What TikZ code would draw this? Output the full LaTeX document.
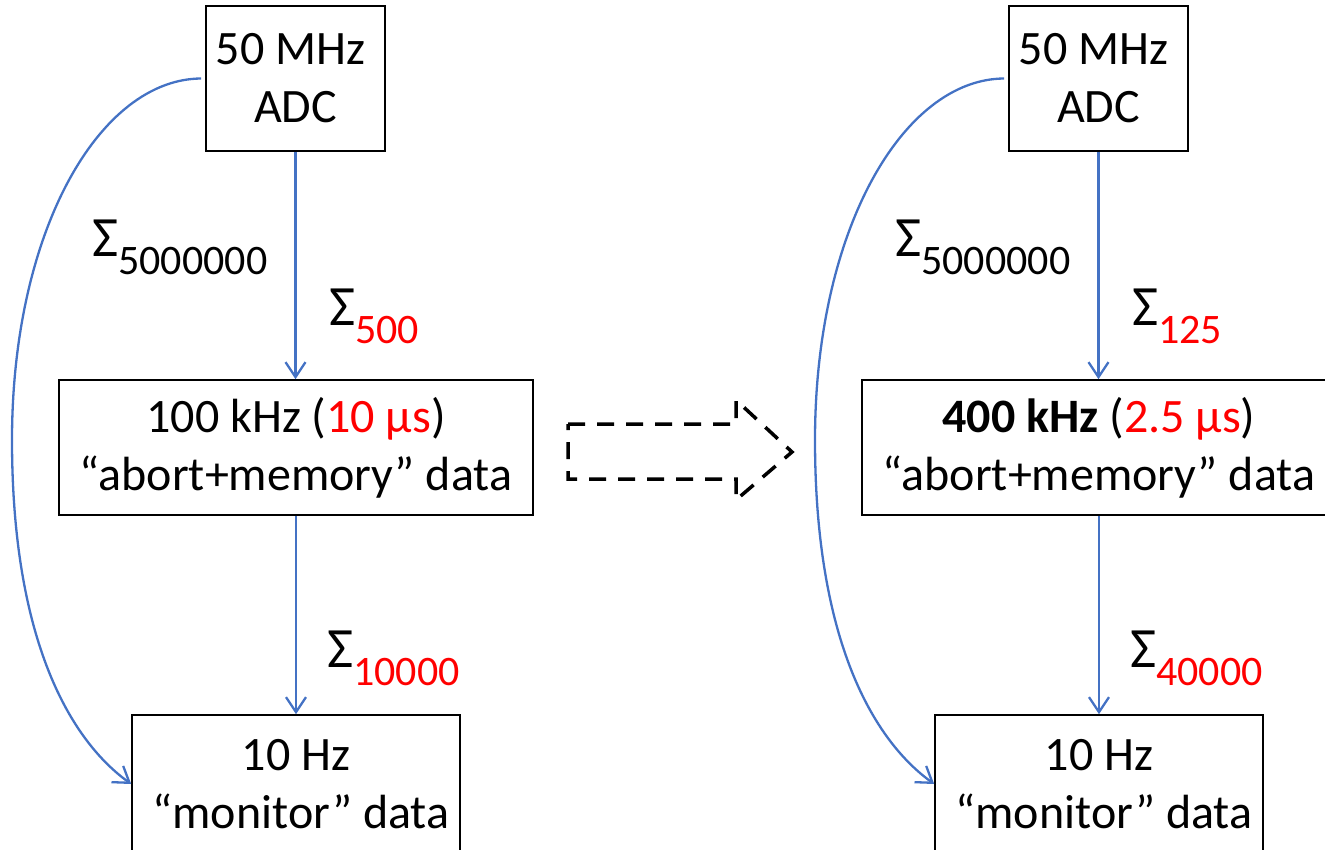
\documentclass[tikz,border=0pt]{standalone}
\usepackage{fontspec}
\setmainfont{Carlito}
\usetikzlibrary{arrows.meta}
\definecolor{flowblue}{HTML}{4472C4}
\definecolor{hotred}{HTML}{FF0000}
% summation sign with a lowered count
\newcommand{\sumlabel}[2]{{\fontsize{57}{57}\selectfont Σ}\raisebox{-18pt}{\fontsize{42}{42}\selectfont\color{#1}#2}}
\begin{document}
\begin{tikzpicture}[x=1pt,y=-1pt,
  box/.style={draw=black,line width=1.6pt,inner sep=0pt,align=center,
    font=\fontsize{48}{58}\selectfont},
  flow/.style={draw=flowblue,line width=2.3pt,-{Straight Barb[length=15pt,width=20pt]}},
  sumtag/.style={anchor=base west,inner sep=0pt},
  bigarrow/.style={draw=black,line width=3.5pt,dash pattern=on 17pt off 12pt}]
\useasboundingbox (0,0) rectangle (1325,850);
\clip (0,0) rectangle (1325,850);

% ---- left chain: 100 kHz ----
\node[box,minimum width=179pt,minimum height=145pt] (adcL) at (295.5,78.5)
  {50 MHz\hspace*{10pt}\\ADC};
\node[box,minimum width=474pt,minimum height=135pt] (midL) at (296,447.5)
  {100 kHz (\textcolor{hotred}{10 μs})\\“abort+memory” data};
\node[box,minimum width=328pt,minimum height=138pt] (botL) at (296,784)
  {10 Hz\\\hspace*{10pt}“monitor” data};
\draw[flow] (adcL.south) -- (adcL.south |- midL.north);
\draw[flow] (midL.south) -- (midL.south |- botL.north);
\draw[flow] ([xshift=-4pt]adcL.west) .. controls (100,79) and (12,230) .. (12,440)
  .. controls (12,640) and (70,740) .. (botL.west);
\node[sumtag] (s1L) at (92,257) {\sumlabel{black}{5000000}};
\node[sumtag] (s2L) at (329,325) {\sumlabel{hotred}{500}};
\node[sumtag] (s3L) at (327,667) {\sumlabel{hotred}{10000}};

% ---- hollow dashed arrow between the two chains ----
\draw[bigarrow] (568,424) -- (736,424) -- (736,400) -- (792,452) -- (736,500)
  -- (736,479) -- (568,479) -- cycle;

% ---- right chain: 400 kHz ----
\begin{scope}[xshift=803pt]
\node[box,minimum width=179pt,minimum height=145pt] (adcR) at (295.5,78.5)
  {50 MHz\hspace*{10pt}\\ADC};
\node[box,minimum width=474pt,minimum height=135pt] (midR) at (296,447.5)
  {\textbf{400 kHz} (\textcolor{hotred}{2.5 μs})\\“abort+memory” data};
\node[box,minimum width=328pt,minimum height=138pt] (botR) at (296,784)
  {10 Hz\\\hspace*{10pt}“monitor” data};
\draw[flow] (adcR.south) -- (adcR.south |- midR.north);
\draw[flow] (midR.south) -- (midR.south |- botR.north);
\draw[flow] ([xshift=-4pt]adcR.west) .. controls (100,79) and (12,230) .. (12,440)
  .. controls (12,640) and (70,740) .. (botR.west);
\node[sumtag] (s1R) at (92,257) {\sumlabel{black}{5000000}};
\node[sumtag] (s2R) at (329,325) {\sumlabel{hotred}{125}};
\node[sumtag] (s3R) at (327,667) {\sumlabel{hotred}{40000}};
\end{scope}
\end{tikzpicture}
\end{document}
